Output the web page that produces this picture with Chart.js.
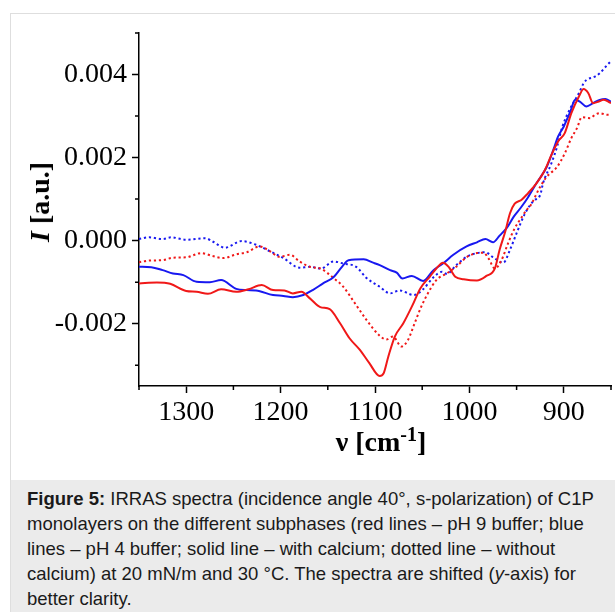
<!DOCTYPE html>
<html><head><meta charset="utf-8">
<script src="https://cdn.jsdelivr.net/npm/chart.js@4/dist/chart.umd.min.js"></script>
<style>
html,body{margin:0;padding:0;background:#fff;width:615px;height:612px;overflow:hidden;}
#frame{position:absolute;left:10px;top:13px;width:640px;height:640px;border:1px solid #dedede;box-sizing:border-box;}
#wrap{position:absolute;left:0;top:0;width:615px;height:470px;}
#ytitle{position:absolute;font-family:'Liberation Serif';font-weight:bold;font-size:28px;line-height:28px;left:40px;top:202px;transform:translate(-50%,-50%) rotate(-90deg);white-space:nowrap;color:#000;}
#xtitle{position:absolute;font-family:'Liberation Serif';font-weight:bold;font-size:28px;line-height:28px;left:381px;top:428px;transform:translateX(-50%);white-space:nowrap;color:#000;}
#xtitle .sup{font-size:20px;position:relative;top:-10px;}
#caption{position:absolute;left:11px;top:480px;width:640px;height:160px;background:#ebebeb;}
#captext{position:absolute;left:16px;top:6px;font-family:'Liberation Sans';font-size:18.5px;line-height:25px;color:#1a1a1a;white-space:nowrap;}
</style></head>
<body>
<div id="frame"></div>
<div id="caption"><div id="captext"><b>Figure 5:</b> IRRAS spectra (incidence angle 40°, s-polarization) of C1P<br>monolayers on the different subphases (red lines – pH 9 buffer; blue<br>lines – pH 4 buffer; solid line – with calcium; dotted line – without<br>calcium) at 20 mN/m and 30 °C. The spectra are shifted (<i>y</i>-axis) for<br>better clarity.</div></div>
<div id="wrap"><canvas id="c" width="615" height="470"></canvas></div>
<div id="ytitle"><i>I</i> [a.u.]</div>
<div id="xtitle">ν [cm<span class="sup">-1</span>]</div>
<script>
// ---- data (wavenumber in cm-1, intensity in a.u.) ----
const redSolidNu = [1350,1331,1317,1300,1289,1277,1263,1247,1234,1220,1208,1196,1187,1178,1169,1158,1148,1137,1127,1116,1106,1095,1091,1086,1079,1070,1061,1052,1042,1035,1028,1022,1015,1006,992,982,973,968,962,957,952,945,938,929,920,913,906,899,892,884,879,874,869,863,858,853,850];
const redSolidI  = [-0.00103,-0.00101,-0.00104,-0.00121,-0.00123,-0.00128,-0.00117,-0.00123,-0.00117,-0.00107,-0.00119,-0.00120,-0.00127,-0.00123,-0.00139,-0.00160,-0.00165,-0.00199,-0.00235,-0.00263,-0.00295,-0.00326,-0.00320,-0.00280,-0.00231,-0.00199,-0.00159,-0.00115,-0.00087,-0.00067,-0.00053,-0.00063,-0.00087,-0.00093,-0.00096,-0.00085,-0.00067,-0.00022,0.00022,0.00066,0.00089,0.00098,0.00114,0.00138,0.00170,0.00207,0.00239,0.00259,0.00307,0.00347,0.00365,0.00355,0.00331,0.00335,0.00339,0.00335,0.00331];

const redDotNu = [1350,1339,1325,1314,1300,1284,1272,1261,1247,1236,1222,1211,1201,1190,1180,1169,1157,1144,1134,1120,1109,1095,1088,1081,1072,1065,1058,1051,1044,1035,1024,1014,1003,992,985,980,973,966,959,952,945,939,936,925,918,907,899,892,886,881,872,867,862,854,850];
const redDotI  = [-0.00052,-0.00048,-0.00047,-0.00041,-0.00040,-0.00030,-0.00037,-0.00042,-0.00033,-0.00028,-0.00014,-0.00026,-0.00039,-0.00034,-0.00050,-0.00063,-0.00068,-0.00090,-0.00110,-0.00155,-0.00191,-0.00229,-0.00238,-0.00231,-0.00255,-0.00239,-0.00199,-0.00159,-0.00127,-0.00095,-0.00079,-0.00063,-0.00040,-0.00030,-0.00029,-0.00042,-0.00067,-0.00047,-0.00006,0.00030,0.00055,0.00075,0.00082,0.00130,0.00154,0.00178,0.00210,0.00247,0.00271,0.00297,0.00295,0.00303,0.00307,0.00303,0.00303];

const blueSolidNu = [1350,1337,1325,1314,1303,1289,1275,1263,1247,1236,1226,1208,1197,1187,1176,1166,1155,1144,1135,1128,1112,1102,1095,1084,1077,1071,1061,1049,1038,1028,1017,1003,992,983,975,968,960,953,946,938,929,918,911,906,900,893,888,883,876,869,862,856,850];
const blueSolidI  = [-0.00063,-0.00064,-0.00071,-0.00079,-0.00083,-0.00099,-0.00100,-0.00095,-0.00116,-0.00119,-0.00120,-0.00131,-0.00133,-0.00136,-0.00131,-0.00119,-0.00103,-0.00088,-0.00063,-0.00047,-0.00045,-0.00053,-0.00059,-0.00071,-0.00077,-0.00091,-0.00085,-0.00097,-0.00071,-0.00055,-0.00034,-0.00014,-0.00004,0.00004,-0.00004,0.00012,0.00032,0.00058,0.00078,0.00104,0.00138,0.00178,0.00219,0.00251,0.00275,0.00311,0.00339,0.00335,0.00323,0.00331,0.00339,0.00341,0.00335];

const blueDotNu = [1350,1339,1325,1316,1300,1280,1272,1259,1241,1226,1211,1197,1180,1169,1157,1144,1134,1120,1109,1095,1084,1074,1059,1049,1038,1029,1024,1014,1003,992,983,975,964,957,950,941,932,925,922,913,907,902,893,884,879,876,867,862,854,851];
const blueDotI  = [0.00004,0.00008,0.00004,0.00008,0.00002,0.00006,-0.00002,-0.00017,-0.00001,-0.00010,-0.00026,-0.00042,-0.00065,-0.00063,-0.00067,-0.00050,-0.00055,-0.00063,-0.00090,-0.00111,-0.00127,-0.00120,-0.00131,-0.00117,-0.00088,-0.00075,-0.00080,-0.00059,-0.00039,-0.00030,-0.00028,-0.00040,-0.00053,-0.00022,0.00018,0.00066,0.00096,0.00110,0.00138,0.00187,0.00227,0.00271,0.00319,0.00355,0.00379,0.00387,0.00395,0.00403,0.00423,0.00430];

// ---- ticks ----
const xMajorTicks = [1300,1200,1100,1000,900];
const xTickLabels = ['1300','1200','1100','1000','900'];
const xMinorTicks = [1350,1250,1150,1050,950,850];
const yMajorTicks = [-0.002,0,0.002,0.004];
const yTickLabels = ['-0.002','0.000','0.002','0.004'];
const yMinorTicks = [-0.003,-0.001,0.001,0.003,0.005];

const RED = '#f01818', BLUE = '#1818f0';
const pts = (xs, ys) => xs.map((v, i) => ({x: v, y: ys[i]}));
const line = (data, color, dotted) => ({
  data, borderColor: color, backgroundColor: color, borderWidth: 2,
  borderDash: dotted ? [2.2, 2.8] : [], pointRadius: 0, fill: false,
  tension: 0.4, cubicInterpolationMode: 'monotone', borderCapStyle: 'butt'
});

const minorTicks = {
  id: 'minorTicks',
  afterDraw(chart) {
    const ctx = chart.ctx, xs = chart.scales.x, ys = chart.scales.y;
    ctx.save(); ctx.strokeStyle = '#000'; ctx.lineWidth = 1.5; ctx.beginPath();
    xMinorTicks.forEach(v => { const p = xs.getPixelForValue(v); ctx.moveTo(p, xs.top); ctx.lineTo(p, xs.top + 4); });
    yMinorTicks.forEach(v => { const p = ys.getPixelForValue(v); ctx.moveTo(ys.right, p); ctx.lineTo(ys.right - 4, p); });
    ctx.stroke(); ctx.restore();
  }
};

const tickFont = {family: "'Liberation Serif'", size: 28};
new Chart(document.getElementById('c'), {
  type: 'line',
  data: { datasets: [
    line(pts(redSolidNu, redSolidI), RED, false),
    line(pts(blueSolidNu, blueSolidI), BLUE, false),
    line(pts(redDotNu, redDotI), RED, true),
    line(pts(blueDotNu, blueDotI), BLUE, true)
  ]},
  options: {
    responsive: false, animation: false, devicePixelRatio: 1,
    layout: {padding: {left: 0, top: 33, right: 4, bottom: 0}},
    plugins: {legend: {display: false}, tooltip: {enabled: false}},
    scales: {
      x: {
        type: 'linear', min: 850, max: 1350, reverse: true,
        afterBuildTicks: s => { s.ticks = xMajorTicks.map(v => ({value: v})); },
        afterFit: s => { s.height = 84; },
        grid: {drawOnChartArea: false, drawTicks: true, tickLength: 7, tickWidth: 1.5, tickColor: '#000'},
        border: {display: true, color: '#000', width: 1.5},
        ticks: {font: tickFont, color: '#000', padding: 3, autoSkip: false, maxRotation: 0,
          callback: v => { const i = xMajorTicks.indexOf(Math.round(v)); return i >= 0 ? xTickLabels[i] : ''; }}
      },
      y: {
        type: 'linear', min: -0.0035, max: 0.005,
        afterBuildTicks: s => { s.ticks = yMajorTicks.map(v => ({value: v})); },
        afterFit: s => { s.width = 139; },
        grid: {drawOnChartArea: false, drawTicks: true, tickLength: 7, tickWidth: 1.5, tickColor: '#000'},
        border: {display: true, color: '#000', width: 1.5},
        ticks: {font: tickFont, color: '#000', padding: 5, autoSkip: false,
          callback: v => { const i = yMajorTicks.findIndex(t => Math.abs(t - v) < 1e-9); return i >= 0 ? yTickLabels[i] : ''; }}
      }
    }
  },
  plugins: [minorTicks]
});
</script>
</body></html>
